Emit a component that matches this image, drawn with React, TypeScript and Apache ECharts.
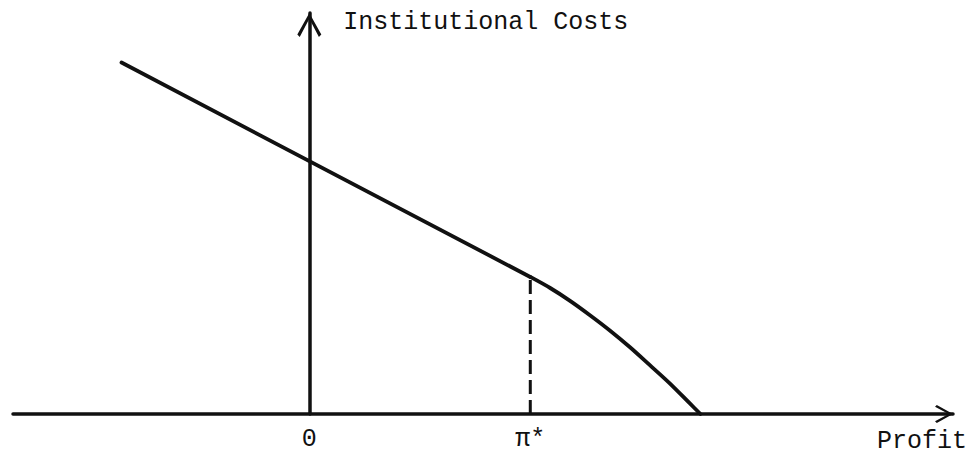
import React, { useEffect, useRef } from "react";
import * as echarts from "echarts";

// Profit axis (x) and Institutional Costs axis (y), in diagram units (pi* = 1)
const xRange = [-1.341, 2.913];
const yRange = [0, 1.814];
const tickValues = [0, 1];
const tickLabels = ["0", "π*"];

// Linear part of the cost schedule (from far left down to pi*)
const lineX = [-0.85, 1.0];
const lineY = [1.59, 0.62];

// Concave part beyond pi*
const curveX = [1.0, 1.09, 1.18, 1.27, 1.36, 1.45, 1.54, 1.63, 1.72, 1.77];
const curveY = [0.62, 0.57, 0.512, 0.447, 0.378, 0.303, 0.222, 0.14, 0.05, 0];

// Dashed drop line at pi*
const dropX = [1.0, 1.0];
const dropY = [0, 0.62];

const FONT = "'Liberation Mono', 'DejaVu Sans Mono', monospace";
const INK = "#111";
const CHEVRON = "path://M50,0 L100,90 L90,100 L50,24 L10,100 L0,90 Z";

function zip(xs: number[], ys: number[]) {
  return xs.map((x, i) => [x, ys[i]]);
}

export default function App() {
  const ref = useRef<HTMLDivElement>(null);
  useEffect(() => {
    if (!ref.current) return;
    const chart = echarts.init(ref.current, null, { renderer: "svg" });
    const lineBase = {
      type: "line" as const,
      symbol: "none",
      silent: true,
      lineStyle: { color: INK, width: 3.8, join: "round" as const, cap: "round" as const },
    };
    chart.setOption({
      animation: false,
      backgroundColor: "#ffffff",
      grid: { left: 13, right: 19, top: 13, bottom: 41, containLabel: false, outerBoundsMode: "none" },
      xAxis: {
        type: "value",
        min: xRange[0],
        max: xRange[1],
        splitLine: { show: false },
        axisTick: { show: false },
        axisLine: {
          show: true,
          onZero: true,
          lineStyle: { color: INK, width: 3.5 },
          symbol: ["none", CHEVRON],
          symbolSize: [34, 18],
          symbolOffset: [0, -9],
        },
        axisLabel: {
          customValues: tickValues,
          formatter: (v: number) => {
            const i = tickValues.indexOf(v);
            return i >= 0 ? tickLabels[i] : "";
          },
          color: INK,
          fontFamily: FONT,
          fontSize: 25,
          lineHeight: 25,
          margin: 13,
        },
        name: "Profit",
        nameLocation: "end",
        nameGap: 14,
        nameMoveOverlap: false,
        nameTextStyle: {
          color: INK,
          fontFamily: FONT,
          fontSize: 25,
          lineHeight: 24,
          align: "right",
          verticalAlign: "top",
          padding: [15, 0, 0, 0],
        },
      },
      yAxis: {
        type: "value",
        min: yRange[0],
        max: yRange[1],
        splitLine: { show: false },
        axisTick: { show: false },
        axisLabel: { show: false },
        axisLine: {
          show: true,
          onZero: true,
          lineStyle: { color: INK, width: 3.5 },
          symbol: ["none", CHEVRON],
          symbolSize: [30, 24],
          symbolOffset: [0, -12],
        },
        name: "Institutional Costs",
        nameLocation: "end",
        nameGap: -9,
        nameMoveOverlap: false,
        nameTextStyle: {
          color: INK,
          fontFamily: FONT,
          fontSize: 25,
          lineHeight: 25,
          align: "left",
          verticalAlign: "middle",
          padding: [0, 0, 0, 34],
        },
      },
      series: [
        { ...lineBase, name: "linear", data: zip(lineX, lineY) },
        { ...lineBase, name: "curve", smooth: 0.3, data: zip(curveX, curveY) },
        {
          ...lineBase,
          name: "drop",
          data: zip(dropX, dropY),
          lineStyle: { color: INK, width: 3, type: [14, 6] },
        },
      ],
    });
    return () => chart.dispose();
  }, []);
  return (
    <div
      ref={ref}
      style={{ position: "absolute", left: 0, top: 0, width: 972, height: 455, background: "#fff" }}
    />
  );
}
